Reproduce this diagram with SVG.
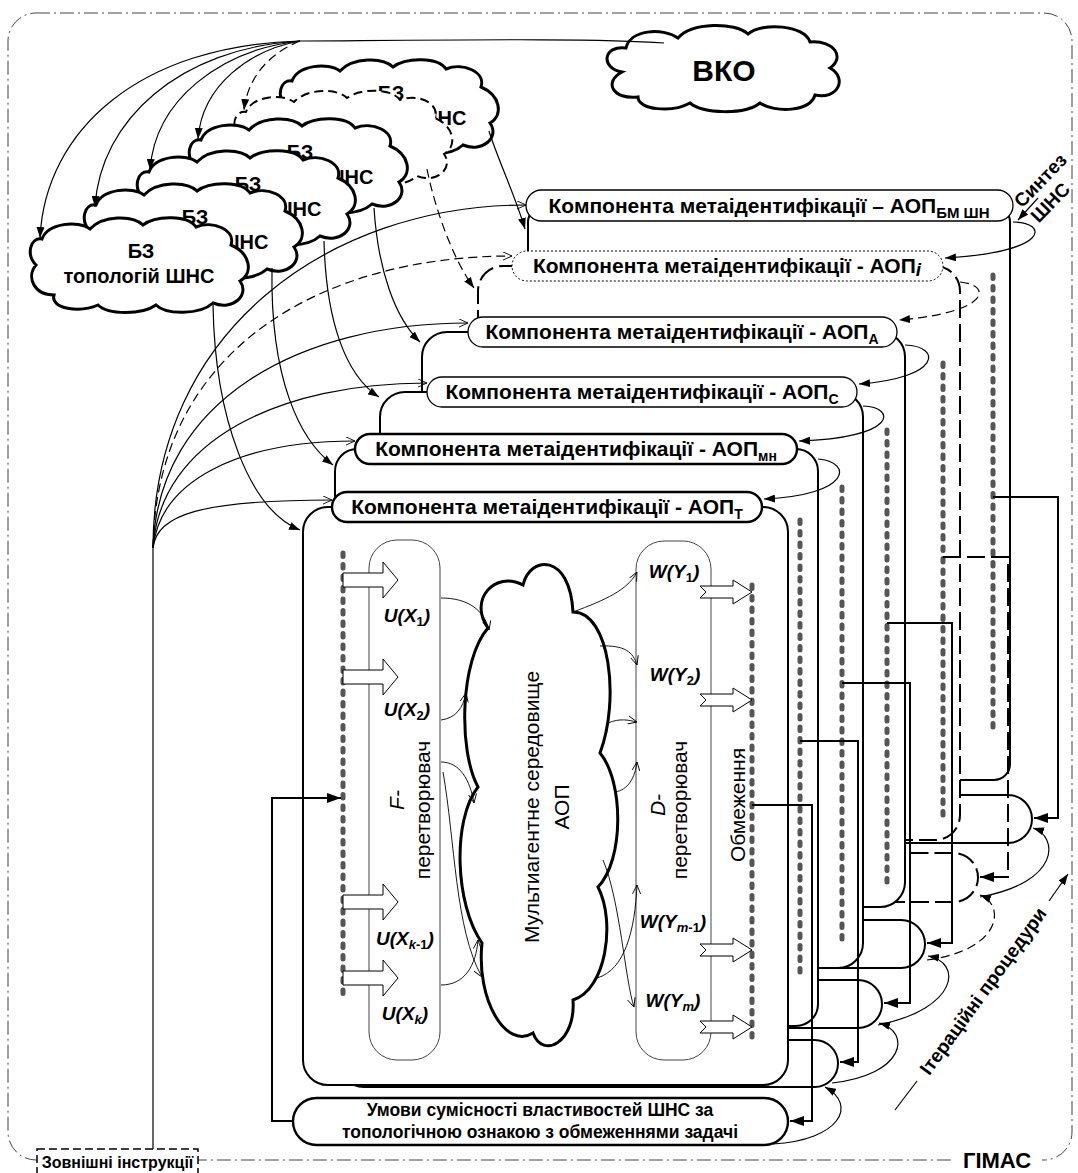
<svg xmlns="http://www.w3.org/2000/svg" width="1078" height="1173" viewBox="0 0 1078 1173">
<defs>
<style>
.t{font-family:"Liberation Sans",Arial,sans-serif;fill:#000}
.b{font-weight:bold}
.ttl{font-family:"Liberation Sans",Arial,sans-serif;font-weight:bold;font-size:21px;text-anchor:middle;fill:#000}
.cont{fill:#fff;stroke:#000;stroke-width:2}
.pill{fill:#fff;stroke:#000;stroke-width:1.3}
.pillb{fill:#fff;stroke:#000;stroke-width:2.4}
.bar{stroke:#555;stroke-width:5;stroke-linecap:round;stroke-dasharray:3.5 8;fill:none}
.ln{fill:none;stroke:#000;stroke-width:1.2}
.ln2{fill:none;stroke:#000;stroke-width:2}
.dsh{stroke-dasharray:18 6}
.dsh2{stroke-dasharray:9 5}
.cloud{fill:#fff;stroke:#000;stroke-width:3}
.blk{fill:#fff;stroke:#000;stroke-width:1}
.thin{fill:none;stroke:#000;stroke-width:0.9}
.lbl{font-family:"Liberation Sans",Arial,sans-serif;font-weight:bold;font-style:italic;font-size:19px;text-anchor:middle}
.rot{font-family:"Liberation Sans",Arial,sans-serif;font-size:21px;text-anchor:middle}
.bzt{font-family:"Liberation Sans",Arial,sans-serif;font-weight:bold;font-size:20px;text-anchor:middle}
</style>
<marker id="ah" viewBox="0 0 14 10" refX="14" refY="5" markerWidth="14" markerHeight="10" markerUnits="userSpaceOnUse" orient="auto"><path d="M0,0 L14,5 L0,10 Z"/></marker>
<marker id="as" viewBox="0 0 11 8" refX="11" refY="4" markerWidth="11" markerHeight="8" markerUnits="userSpaceOnUse" orient="auto"><path d="M0,0 L11,4 L0,8 Z"/></marker>
<marker id="oa" viewBox="0 0 10 10" refX="10" refY="5" markerWidth="9" markerHeight="9" markerUnits="userSpaceOnUse" orient="auto"><path d="M0,0.5 L10,5 L0,9.5" fill="none" stroke="#000" stroke-width="1"/></marker>
<path id="bz" d="M8,50 C-2,40 2,22 14,24 C20,8 50,5 62,14 C75,0 105,0 115,10 C128,0 160,0 168,12 C185,5 208,15 203,30 C222,38 226,58 212,66 C222,80 205,96 185,88 C172,100 138,100 128,90 C114,100 80,100 70,90 C52,98 22,94 26,80 C6,80 -2,62 8,50 Z"/>
</defs>

<g id="frame">
<rect x="8" y="13" width="1064" height="1147" rx="28" fill="none" stroke="#444" stroke-width="1" stroke-dasharray="14 4 2 4"/>
<rect x="954" y="1149" width="88" height="22" fill="#fff"/>
<text class="t b" x="997" y="1168" font-size="22" text-anchor="middle">ГІМАС</text>
</g>

<g id="ext-instr">
<rect x="37" y="1149" width="161" height="32" fill="#fff" stroke="#000" stroke-width="1.5" stroke-dasharray="8 4"/>
<text class="t b" x="117.5" y="1168" font-size="16" text-anchor="middle">Зовнішні інструкції</text>
</g>

<g id="vko">
<path class="cloud" d="M622,72 C600,68 603,45 626,48 C630,30 662,27 678,38 C692,22 735,22 748,34 C762,22 805,25 810,42 C835,40 845,58 830,68 C848,78 838,100 815,95 C810,112 775,113 760,103 C745,115 703,114 690,103 C672,113 638,110 638,97 C613,100 603,82 622,72 Z"/>
<text class="t b" x="724" y="81" font-size="30" text-anchor="middle">ВКО</text>
</g>

<g id="bz6">
<use href="#bz" x="278" y="57" fill="#fff" stroke="#000" stroke-width="3"/>
<text class="bzt" x="391" y="100">БЗ</text>
<text class="bzt" x="442" y="125">ШНС</text>
</g>
<g id="bz5">
<use href="#bz" x="232" y="88" fill="#fff" stroke="#000" stroke-width="2" stroke-dasharray="9 5"/>
</g>
<g id="bz4">
<use href="#bz" x="187" y="116" fill="#fff" stroke="#000" stroke-width="3"/>
<text class="bzt" x="300" y="159">БЗ</text>
<text class="bzt" x="349" y="184">ШНС</text>
</g>
<g id="bz3">
<use href="#bz" x="135" y="148" fill="#fff" stroke="#000" stroke-width="3"/>
<text class="bzt" x="248" y="191">БЗ</text>
<text class="bzt" x="297" y="216">ШНС</text>
</g>
<g id="bz2">
<use href="#bz" x="82" y="181" fill="#fff" stroke="#000" stroke-width="3"/>
<text class="bzt" x="195" y="224">БЗ</text>
<text class="bzt" x="244" y="249">ШНС</text>
</g>
<g id="bz1">
<use href="#bz" x="28" y="215" fill="#fff" stroke="#000" stroke-width="3"/>
<text class="bzt" x="141" y="258">БЗ</text>
<text class="bzt" x="139" y="283">топологій ШНС</text>
</g>

<g id="layer-bm">
<rect class="cont" x="528" y="206" width="482" height="574" rx="16"/>
<rect class="cont" x="528" y="795" width="504" height="48" rx="24"/>
<line class="bar" x1="993" y1="275" x2="993" y2="735"/>
<rect class="pill" x="526" y="190" width="487" height="31" rx="15.5"/>
<text class="ttl" x="769" y="213">Компонента метаідентифікації – АОП<tspan font-size="15" dy="5">БМ ШН</tspan></text>
</g>

<g id="layer-i">
<rect class="cont dsh" x="478" y="266" width="482" height="574" rx="25"/>
<rect class="cont dsh" x="478" y="853" width="500" height="49" rx="24.5"/>
<line class="bar" x1="943" y1="363" x2="943" y2="823"/>
<rect x="512" y="251" width="431" height="30" rx="15" fill="#fff" stroke="#000" stroke-width="1" stroke-dasharray="2 2"/>
<text class="ttl" x="727" y="273">Компонента метаідентифікації - АОП<tspan font-style="italic" font-size="19" dy="3">i</tspan></text>
</g>

<g id="layer-a">
<rect class="cont" x="422" y="332" width="483" height="575" rx="25"/>
<rect class="cont" x="422" y="920" width="503" height="48" rx="24"/>
<line class="bar" x1="887" y1="430" x2="887" y2="890"/>
<rect class="pill" x="468" y="317" width="429" height="30" rx="15"/>
<text class="ttl" x="682" y="339">Компонента метаідентифікації - АОП<tspan font-size="14" dy="5">А</tspan></text>
</g>

<g id="layer-c">
<rect class="cont" x="380" y="392" width="483" height="576" rx="25"/>
<rect class="cont" x="380" y="980" width="502" height="48" rx="24"/>
<line class="bar" x1="842" y1="487" x2="842" y2="947"/>
<rect class="pill" x="427" y="377" width="430" height="30" rx="15"/>
<text class="ttl" x="642" y="399">Компонента метаідентифікації - АОП<tspan font-size="14" dy="5">С</tspan></text>
</g>

<g id="layer-mn">
<rect class="cont" x="335" y="449" width="483" height="577" rx="22"/>
<rect class="cont" x="340" y="1040" width="498" height="47" rx="23.5"/>
<line class="bar" x1="800" y1="520" x2="800" y2="980"/>
<rect class="pillb" x="355" y="434" width="442" height="30" rx="15"/>
<text class="ttl" x="576" y="456">Компонента метаідентифікації - АОП<tspan font-size="14" dy="5">мн</tspan></text>
</g>

<g id="layer-t">
<rect class="cont" x="303" y="507" width="485" height="578" rx="25" stroke-width="2.2"/>
<line class="bar" x1="752" y1="585" x2="752" y2="1045"/>
<rect class="pillb" x="332" y="492" width="430" height="30" rx="15"/>
<text class="ttl" x="547" y="514">Компонента метаідентифікації - АОП<tspan font-size="14" dy="5">Т</tspan></text>
</g>

<g id="umovy">
<rect class="pillb" x="293" y="1098" width="495" height="47" rx="23.5"/>
<text class="t b" x="540" y="1116" font-size="17.5" text-anchor="middle">Умови сумісності властивостей ШНС за</text>
<text class="t b" x="540" y="1138" font-size="17.5" text-anchor="middle">топологічною ознакою з обмеженнями задачі</text>
</g>

<g id="input-bar">
<line class="bar" x1="343" y1="553" x2="343" y2="1000"/>
</g>

<g id="f-conv">
<rect x="369" y="540" width="71" height="520" rx="28" fill="#fff" stroke="#444" stroke-width="1"/>
<text class="rot" font-style="italic" transform="translate(404,800) rotate(-90)">F-</text>
<text class="rot" transform="translate(430,810) rotate(-90)">перетворювач</text>
<path class="blk" d="M343,573 H383 V562 L398,580 L383,598 V587 H343 Z"/>
<path class="blk" d="M343,670 H383 V659 L398,677 L383,695 V684 H343 Z"/>
<path class="blk" d="M343,895 H383 V884 L398,902 L383,920 V909 H343 Z"/>
<path class="blk" d="M343,971 H383 V960 L398,978 L383,996 V985 H343 Z"/>
<text class="lbl" x="407" y="622">U(X<tspan font-size="13" font-style="normal" dy="4">1</tspan><tspan dy="-4">)</tspan></text>
<text class="lbl" x="407" y="716">U(X<tspan font-size="13" font-style="normal" dy="4">2</tspan><tspan dy="-4">)</tspan></text>
<text class="lbl" x="405" y="945">U(X<tspan font-size="13" dy="4">k</tspan><tspan font-size="13" font-style="normal">-1</tspan><tspan dy="-4">)</tspan></text>
<text class="lbl" x="405" y="1020">U(X<tspan font-size="13" dy="4">k</tspan><tspan dy="-4">)</tspan></text>
</g>

<g id="mas-cloud">
<path class="cloud" d="M488,628 C468,600 495,570 523,585 C530,555 570,553 573,612 C610,612 620,700 600,753 C624,782 624,860 598,887 C616,922 606,990 573,1000 C576,1042 543,1060 533,1033 C506,1050 476,1000 482,943 C455,905 452,820 478,787 C458,750 460,660 488,628 Z"/>
<text class="rot" font-size="25" transform="translate(539,807) rotate(-90)">Мультиагентне середовище</text>
<text class="rot" font-size="25" transform="translate(569,807) rotate(-90)">АОП</text>
</g>

<g id="d-conv">
<rect x="636" y="541" width="75" height="519" rx="28" fill="#fff" stroke="#444" stroke-width="1"/>
<text class="rot" font-style="italic" transform="translate(665,805) rotate(-90)">D-</text>
<text class="rot" transform="translate(687,810) rotate(-90)">перетворювач</text>
<text class="lbl" x="674" y="578">W(Y<tspan font-size="13" font-style="normal" dy="4">1</tspan><tspan dy="-4">)</tspan></text>
<text class="lbl" x="675" y="681">W(Y<tspan font-size="13" font-style="normal" dy="4">2</tspan><tspan dy="-4">)</tspan></text>
<text class="lbl" x="673" y="928">W(Y<tspan font-size="13" dy="4">m</tspan><tspan font-size="13" font-style="normal">-1</tspan><tspan dy="-4">)</tspan></text>
<text class="lbl" x="673" y="1007">W(Y<tspan font-size="13" dy="4">m</tspan><tspan dy="-4">)</tspan></text>
<path class="blk" d="M700,586 H733 V580 L752,592 L733,604 V598 H700 L706,592 Z"/>
<path class="blk" d="M700,694 H733 V688 L752,700 L733,712 V706 H700 L706,700 Z"/>
<path class="blk" d="M700,944 H733 V938 L752,950 L733,962 V956 H700 L706,950 Z"/>
<path class="blk" d="M700,1021 H733 V1015 L752,1027 L733,1039 V1033 H700 L706,1027 Z"/>
</g>

<g id="obmezhennia">
<text class="rot" transform="translate(745,805) rotate(-90)">Обмеження</text>
</g>

<g id="synth-label">
<text class="t b" font-size="19" text-anchor="middle" transform="translate(1045,185) rotate(-46)">Синтез</text>
<text class="t b" font-size="19" text-anchor="middle" transform="translate(1055,207) rotate(-46)">ШНС</text>
</g>

<g id="iter-label">
<text class="t b" font-size="19" text-anchor="middle" dy="0.35em" transform="translate(983,991) rotate(-54)">Ітераційні процедури</text>
</g>

<g id="connectors">
<path class="ln" d="M664,43 C600,38 450,40 300,41"/>
<path class="ln" d="M300,41 C140,45 45,130 40,238" marker-end="url(#as)"/>
<path class="ln" d="M300,41 C180,48 100,120 95,207" marker-end="url(#as)"/>
<path class="ln" d="M300,41 C220,50 155,100 150,170" marker-end="url(#as)"/>
<path class="ln" d="M300,41 C250,50 202,85 198,139" marker-end="url(#as)"/>
<path class="ln dsh2" d="M300,41 C272,52 248,75 244,110" marker-end="url(#as)"/>
<path class="ln" d="M489,131 C498,160 515,195 525,229" marker-end="url(#as)"/>
<path class="ln dsh2" d="M427,169 C433,200 450,255 474,288" marker-end="url(#as)"/>
<path class="ln" d="M374,208 C378,270 395,318 420,342" marker-end="url(#as)"/>
<path class="ln" d="M324,241 C326,320 345,375 379,397" marker-end="url(#as)"/>
<path class="ln" d="M272,268 C270,380 300,440 333,465" marker-end="url(#as)"/>
<path class="ln" d="M213,305 C215,420 250,510 300,530" marker-end="url(#as)"/>
<path class="ln" d="M153,1149 V548"/>
<path class="ln" d="M153,548 C153,330 330,205 526,205" marker-end="url(#oa)"/>
<path class="ln dsh2" d="M153,548 C156,350 320,256 512,256" marker-end="url(#oa)"/>
<path class="ln" d="M153,548 C158,400 300,323 468,323" marker-end="url(#oa)"/>
<path class="ln" d="M153,548 C160,440 280,383 427,383" marker-end="url(#oa)"/>
<path class="ln" d="M153,548 C160,480 240,441 355,441" marker-end="url(#oa)"/>
<path class="ln" d="M153,548 C156,515 200,500 332,500" marker-end="url(#oa)"/>
<path class="ln" d="M1038,198 L1018,220" marker-end="url(#as)"/>
<path class="ln" d="M1013,222 C1048,222 1052,252 945,258" marker-end="url(#as)"/>
<path class="ln dsh2" d="M960,282 C992,285 992,312 899,320" marker-end="url(#as)"/>
<path class="ln" d="M905,345 C942,346 942,378 859,384" marker-end="url(#as)"/>
<path class="ln" d="M863,406 C897,407 898,438 799,441" marker-end="url(#as)"/>
<path class="ln" d="M818,459 C853,462 852,495 764,499" marker-end="url(#as)"/>
<path class="ln2" d="M752,805 H812 V1121 H790" marker-end="url(#ah)"/>
<path class="ln2" d="M800,741 H858 V1062 H840" marker-end="url(#ah)"/>
<path class="ln2" d="M842,683 H910 V1003 H884" marker-end="url(#ah)"/>
<path class="ln2" d="M887,623 H952 V943 H927" marker-end="url(#ah)"/>
<path class="ln2 dsh" d="M943,557 H1008 V877 H980" marker-end="url(#ah)"/>
<path class="ln2" d="M993,497 H1058 V818 H1034" marker-end="url(#ah)"/>
<path class="ln2" d="M293,1121 H272 V798 H341" marker-end="url(#ah)"/>
<path class="ln" d="M773,1144 C840,1140 858,1105 825,1087" marker-end="url(#as)"/>
<path class="ln" d="M832,1083 C905,1075 912,1032 879,1023" marker-end="url(#as)"/>
<path class="ln" d="M878,1025 C960,1008 962,962 928,956" marker-end="url(#as)"/>
<path class="ln dsh2" d="M927,960 C1002,950 1006,905 980,895" marker-end="url(#as)"/>
<path class="ln" d="M980,897 C1062,882 1058,836 1033,828" marker-end="url(#as)"/>
<path class="ln" d="M895,1110 L917,1081"/>
<path class="ln" d="M1049,901 L1068,874" marker-end="url(#as)"/>
<path class="thin" d="M441,598 C468,598 484,610 489,630" marker-end="url(#oa)"/>
<path class="thin" d="M441,720 C456,718 463,708 466,693" marker-end="url(#oa)"/>
<path class="thin" d="M441,762 C460,762 470,780 474,803" marker-end="url(#oa)"/>
<path class="thin" d="M443,772 C455,840 455,930 482,977" marker-end="url(#oa)"/>
<path class="thin" d="M441,985 C465,985 476,965 478,940" marker-end="url(#oa)"/>
<path class="thin" d="M573,612 C605,600 628,590 637,572" marker-end="url(#oa)"/>
<path class="thin" d="M600,646 C625,645 633,652 637,665" marker-end="url(#oa)"/>
<path class="thin" d="M608,723 C620,718 628,720 637,722" marker-end="url(#oa)"/>
<path class="thin" d="M615,792 C628,790 635,778 637,762" marker-end="url(#oa)"/>
<path class="thin" d="M597,978 C625,970 635,930 637,885" marker-end="url(#oa)"/>
<path class="thin" d="M603,860 C620,900 625,980 634,1007" marker-end="url(#oa)"/>
</g>
</svg>
